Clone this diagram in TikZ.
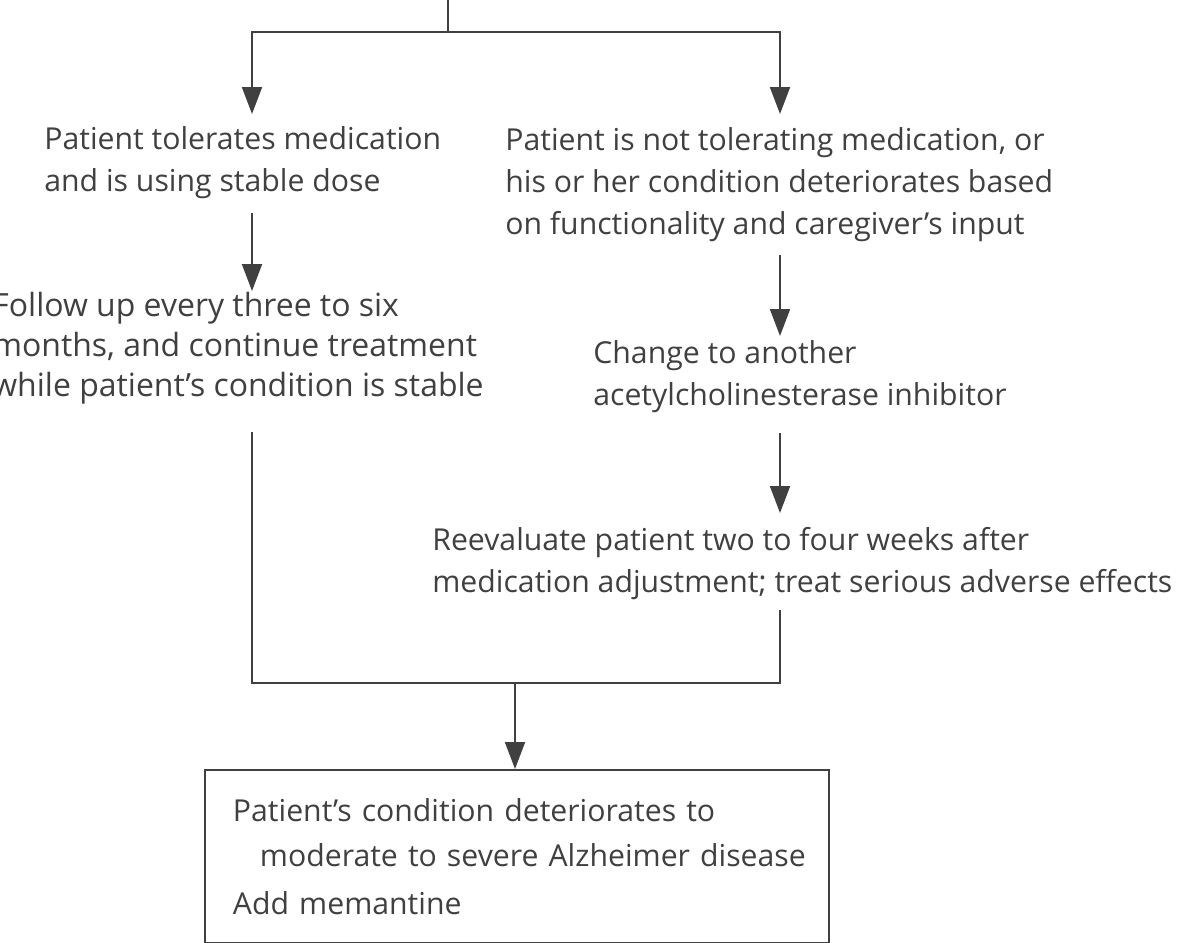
\documentclass[tikz,border=0pt]{standalone}
\usepackage{fontspec}
\setmainfont{Open Sans}
\usetikzlibrary{arrows.meta}
\definecolor{ink}{gray}{0.25}
\tikzstyle{txt}=[anchor=north west, inner sep=0pt, align=left, text=ink, font=\fontsize{17.2pt}{23.9pt}\selectfont]
\tikzstyle{flow}=[draw=ink, line width=1.1pt]
\tikzstyle{arr}=[flow, -{Triangle[length=0.54cm, width=0.4cm]}]

\begin{document}
\begin{tikzpicture}[x=0.02cm, y=-0.02cm]
\useasboundingbox (0,0) rectangle (1183,943);
\clip (0,0) rectangle (1183,943);

\node[txt] (tol)    at (44, 126)  {Patient tolerates medication\\and is using stable dose};
\node[txt] (nottol) at (505, 127) {Patient is not tolerating medication, or\\his or her condition deteriorates based\\on functionality and caregiver’s input};
\node[txt, font=\fontsize{18.2pt}{22.8pt}\selectfont] (follow) at (-8, 292) {Follow up every three to six\\months, and continue treatment\\while patient’s condition is stable};
\node[txt] (change) at (593, 340) {Change to another\\acetylcholinesterase inhibitor};
\node[txt] (reeval) at (432, 527) {Reevaluate patient two to four weeks after\\medication adjustment; treat serious adverse effects};
\node[txt, font=\fontsize{17.2pt}{25.8pt}\selectfont, draw=ink, line width=1.1pt, text width=11.36cm, inner xsep=0.56cm, minimum height=3.46cm] (memantine) at (204, 769)
  {Patient’s condition deteriorates to\\\hspace*{0.54cm}\mbox{moderate to severe Alzheimer disease}\\[0.04cm]Add memantine};

\coordinate (top)        at (448, 0);
\coordinate (split)      at (448, 32);
\coordinate (tol-in)     at (252, 114);
\coordinate (tol-out)    at (252, 213);
\coordinate (follow-in)  at (252, 291);
\coordinate (follow-out) at (252, 432);
\coordinate (nottol-in)  at (780, 114);
\coordinate (nottol-out) at (780, 255);
\coordinate (change-in)  at (780, 336);
\coordinate (change-out) at (780, 433);
\coordinate (reeval-in)  at (780, 513);
\coordinate (reeval-out) at (780, 610);
\coordinate (join)       at (515, 683);

\draw[flow] (top) -- (split);
\draw[arr] (split) -| (tol-in);
\draw[arr] (split) -| (nottol-in);
\draw[arr] (tol-out) -- (follow-in);
\draw[arr] (nottol-out) -- (change-in);
\draw[arr] (change-out) -- (reeval-in);
\draw[flow] (follow-out) |- (join) -| (reeval-out);
\draw[arr] (join) -- (join |- memantine.north);

\end{tikzpicture}
\end{document}
